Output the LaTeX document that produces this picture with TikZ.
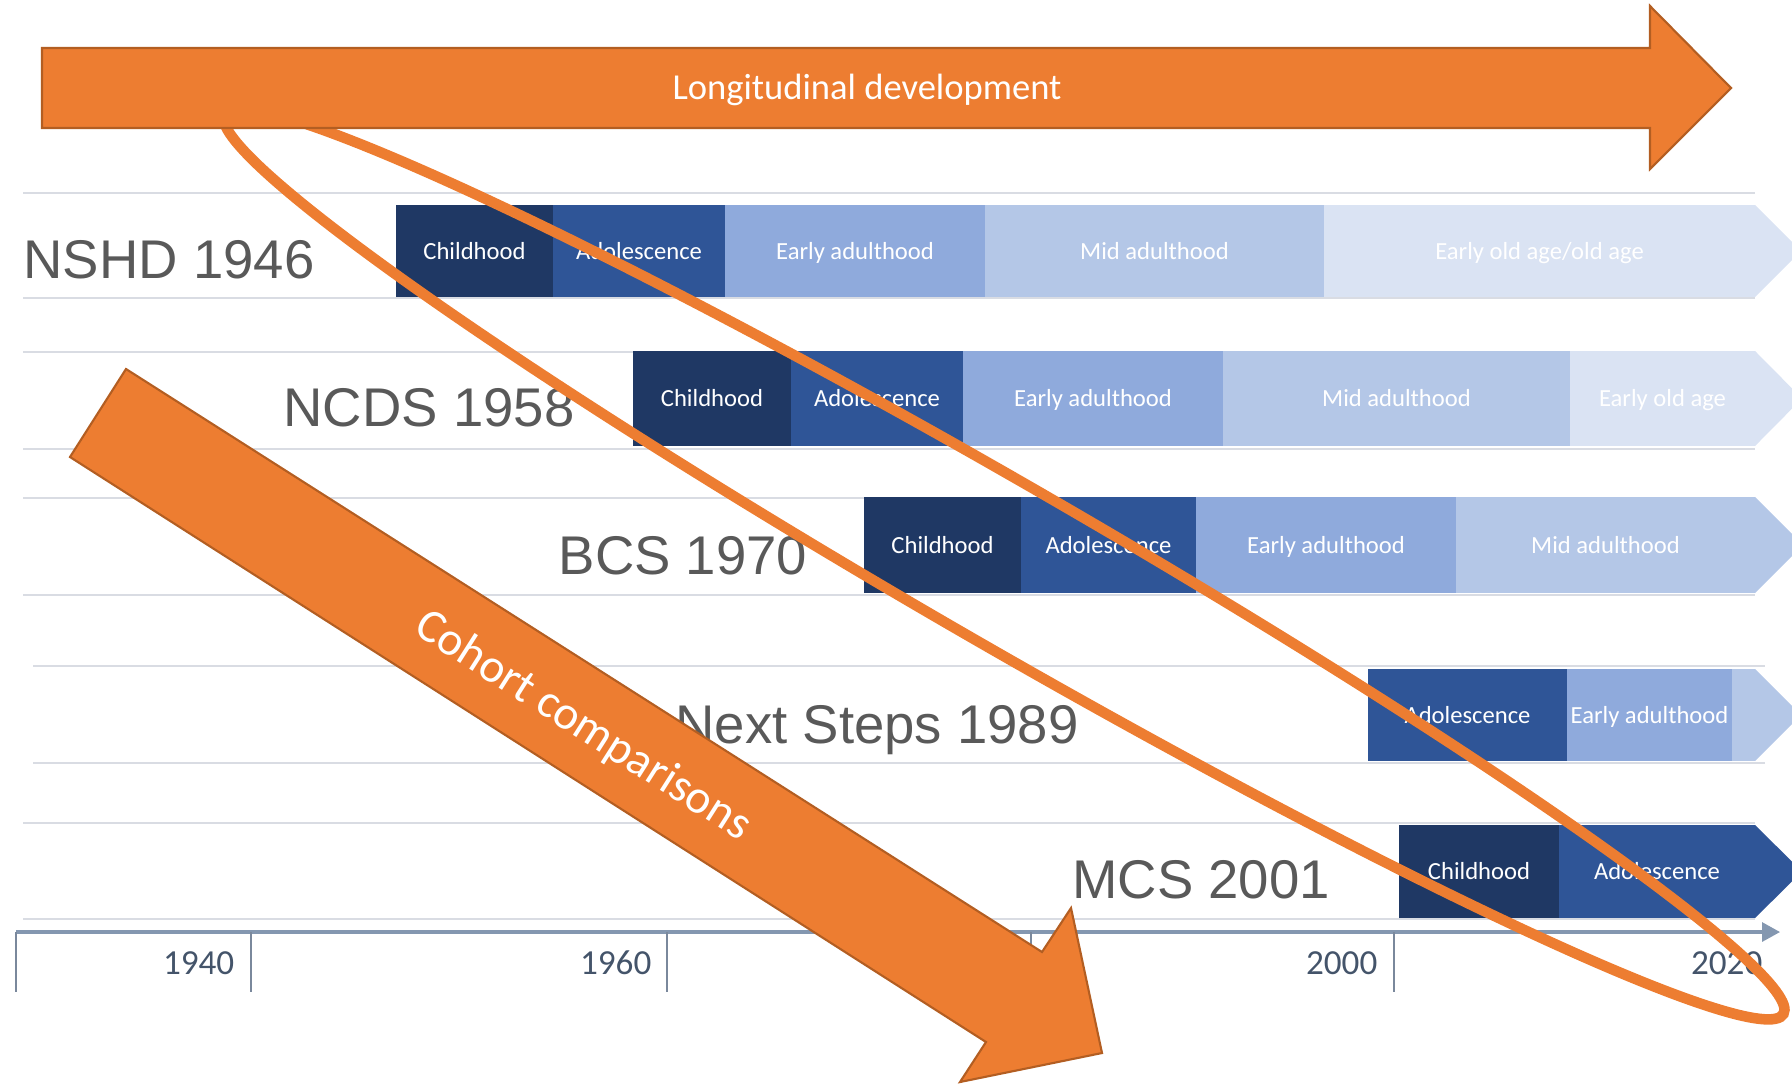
\documentclass[tikz,border=0pt]{standalone}
\usepackage{fontspec}
\setmainfont{Carlito}
\newfontfamily\arialfont{Liberation Sans}
\usetikzlibrary{fit,arrows.meta}
\definecolor{orangeA}{HTML}{ED7D31}
\definecolor{orangeL}{HTML}{B35E22}
\definecolor{child}{HTML}{1F3864}
\definecolor{adol}{HTML}{2F5597}
\definecolor{early}{HTML}{8FAADC}
\definecolor{mid}{HTML}{B4C7E7}
\definecolor{old}{HTML}{DAE3F3}
\definecolor{gridc}{HTML}{D9DCE3}
\definecolor{axisc}{HTML}{8497B0}
\definecolor{tickc}{HTML}{7A889C}
\definecolor{yearc}{HTML}{44546A}
\definecolor{namec}{HTML}{595959}
\begin{document}
\begin{tikzpicture}[x=0.01cm,y=-0.01cm,
  grid/.style={draw=gridc,line width=0.6pt},
  phase/.style={inner sep=0pt,outer sep=0pt},
  lbl/.style={text=white,inner sep=0pt,text height=4.8pt,text depth=0pt,font=\fontsize{7}{8}\selectfont},
  cohort/.style={text=namec,font=\arialfont\fontsize{15.5}{18}\selectfont,inner sep=0pt,anchor=base},
  year/.style={text=yearc,font=\fontsize{10}{12}\selectfont,inner sep=0pt,anchor=base east},
  bigarrow/.style={fill=orangeA,draw=orangeL,line width=0.6pt,line join=miter},
  arrowtext/.style={text=white,inner sep=0pt,anchor=base,font=\fontsize{10.4}{12}\selectfont}]
\useasboundingbox (0,0) rectangle (1792,1084);
% rows
\draw[grid] (23,193) -- (1755,193) (23,298) -- (1755,298) (23,352) -- (1755,352) (23,449) -- (1755,449)
  (23,498) -- (1755,498) (23,595) -- (1755,595) (33,666) -- (1765,666) (33,763) -- (1765,763)
  (23,823) -- (1755,823) (23,919) -- (1755,919);
% NSHD 1946
\node[phase,fill=child,fit={(396,205) (553,297)},label={[lbl]center:Childhood}] (nshd1) {};
\node[phase,fill=adol,fit={(553,205) (725,297)},label={[lbl]center:Adolescence}] (nshd2) {};
\node[phase,fill=early,fit={(725,205) (985,297)},label={[lbl]center:Early adulthood}] (nshd3) {};
\node[phase,fill=mid,fit={(985,205) (1324,297)},label={[lbl]center:Mid adulthood}] (nshd4) {};
\node[phase,fill=old,fit={(1324,205) (1755,297)},label={[lbl]center:Early old age/old age}] (nshd5) {};
\fill[old] (nshd5.north east) -- ([xshift=0.46cm]nshd5.east) -- (nshd5.south east) -- cycle;
% NCDS 1958
\node[phase,fill=child,fit={(633,351) (791,446)},label={[lbl]center:Childhood}] (ncds1) {};
\node[phase,fill=adol,fit={(791,351) (963,446)},label={[lbl]center:Adolescence}] (ncds2) {};
\node[phase,fill=early,fit={(963,351) (1223,446)},label={[lbl]center:Early adulthood}] (ncds3) {};
\node[phase,fill=mid,fit={(1223,351) (1570,446)},label={[lbl]center:Mid adulthood}] (ncds4) {};
\node[phase,fill=old,fit={(1570,351) (1755,446)},label={[lbl]center:Early old age}] (ncds5) {};
\fill[old] (ncds5.north east) -- ([xshift=0.47cm]ncds5.east) -- (ncds5.south east) -- cycle;
% BCS 1970
\node[phase,fill=child,fit={(864,497) (1021,593)},label={[lbl]center:Childhood}] (bcs1) {};
\node[phase,fill=adol,fit={(1021,497) (1196,593)},label={[lbl]center:Adolescence}] (bcs2) {};
\node[phase,fill=early,fit={(1196,497) (1456,593)},label={[lbl]center:Early adulthood}] (bcs3) {};
\node[phase,fill=mid,fit={(1456,497) (1755,593)},label={[lbl]center:Mid adulthood}] (bcs4) {};
\fill[mid] (bcs4.north east) -- ([xshift=0.48cm]bcs4.east) -- (bcs4.south east) -- cycle;
% Next Steps 1989
\node[phase,fill=adol,fit={(1368,669) (1567,761)},label={[lbl]center:Adolescence}] (ns1) {};
\node[phase,fill=early,fit={(1567,669) (1732,761)},label={[lbl]center:Early adulthood}] (ns2) {};
\node[phase,fill=mid,fit={(1732,669) (1755,761)}] (ns3) {};
\fill[mid] (ns3.north east) -- ([xshift=0.46cm]ns3.east) -- (ns3.south east) -- cycle;
% MCS 2001
\node[phase,fill=child,fit={(1399,825) (1559,918)},label={[lbl]center:Childhood}] (mcs1) {};
\node[phase,fill=adol,fit={(1559,825) (1755,918)},label={[lbl]center:Adolescence}] (mcs2) {};
\fill[adol] (mcs2.north east) -- ([xshift=0.47cm]mcs2.east) -- (mcs2.south east) -- cycle;
\node[cohort] (nshd) at (169,278) {NSHD 1946};
\node[cohort] (ncds) at (429,426) {NCDS 1958};
\node[cohort] (bcs) at (683,574) {BCS 1970};
\node[cohort] (ns) at (877,743) {Next Steps 1989};
\node[cohort] (mcs) at (1201,898) {MCS 2001};
% time axis
\coordinate (ax0) at (16,932);
\coordinate (ax1) at (1780,932);
\draw[axisc,line width=0.9pt,-{Triangle[length=0.18cm,width=0.19cm]}] (ax0) -- (ax1);
\draw[tickc,line width=0.5pt] (16,932) -- (16,992) (251,932) -- (251,992) (667,932) -- (667,992)
  (1031,932) -- (1031,992) (1394,932) -- (1394,992);
\node[year] (y1940) at (235,974) {1940};
\node[year] (y1960) at (652,974) {1960};
\node[year] (y2000) at (1378,974) {2000};
\node[year] (y2020) at (1763,974) {2020};
% longitudinal loop
\draw[orangeA,line width=3pt,rotate around={-30:(1004,564)}] (1004,564) ellipse [x radius=900,y radius=80];
% arrows
\draw[bigarrow] (42,48) -- (1650,48) -- (1650,6) -- (1731,88) -- (1650,169) -- (1650,128) -- (42,128) -- cycle;
\node[arrowtext] (ld) at (867,99) {Longitudinal development};
\draw[bigarrow] (126,369) -- (1042,952) -- (1071,908) -- (1102,1053) -- (960,1082) -- (986,1042) -- (70,457) -- cycle;
\node[arrowtext,font=\fontsize{13.5}{15}\selectfont,rotate=-32.5] (cc) at (576,737) {Cohort comparisons};
\end{tikzpicture}
\end{document}
